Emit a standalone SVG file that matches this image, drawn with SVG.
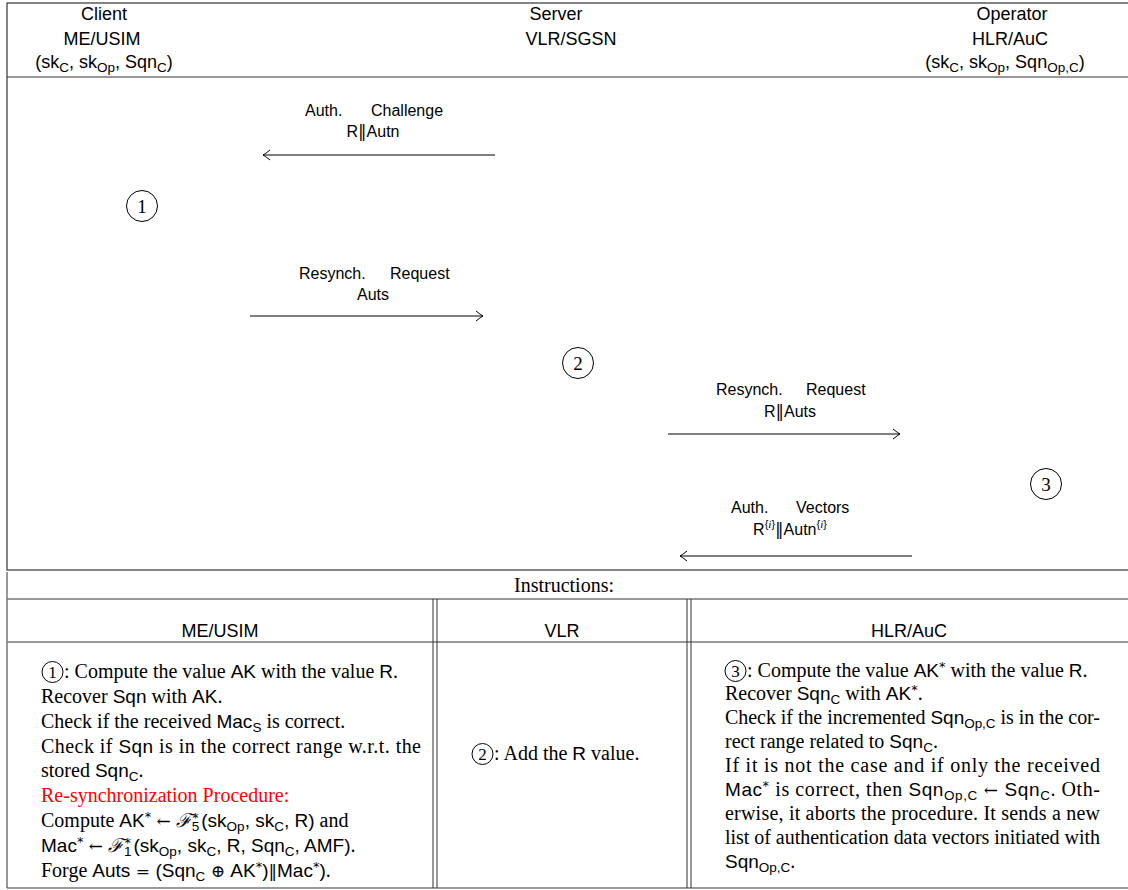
<svg xmlns="http://www.w3.org/2000/svg" width="1128" height="890" viewBox="0 0 1128 890">
<style>
.h{font-family:"Liberation Sans",Arial,sans-serif;font-size:18px;fill:#000}
.l{font-family:"Liberation Sans",Arial,sans-serif;font-size:16px;fill:#000}
.t{font-family:"Liberation Serif","Times New Roman",serif;font-size:20px;fill:#000}
.m{font-family:"Liberation Sans",Arial,sans-serif;font-size:19px}
.s{font-family:"Liberation Sans",Arial,sans-serif;font-size:13.5px}
.sup{font-family:"DejaVu Sans","Liberation Sans",sans-serif;font-size:13px}
.ss{font-family:"Liberation Sans",Arial,sans-serif;font-size:11px}
.op{font-family:"DejaVu Serif","Liberation Serif",serif;font-size:17px}
.cal{font-family:"DejaVu Serif","Liberation Serif",serif;font-style:italic;font-size:19px}
.red{fill:#ff0000}
.frame{fill:none;stroke:#333;stroke-width:1.2}
.hl{stroke:#777;stroke-width:1.6}
.vl{stroke:#333;stroke-width:1}
.circ{fill:none;stroke:#000;stroke-width:1}
.cn{font-family:"Liberation Serif","Times New Roman",serif;font-size:19px;text-anchor:middle}
.cns{font-family:"Liberation Serif","Times New Roman",serif;font-size:17px;text-anchor:middle}
.arr{stroke:#000;stroke-width:1;fill:none;marker-end:url(#chev)}
</style>
<defs>
<marker id="chev" viewBox="-9 -6 10 12" markerWidth="10" markerHeight="12" refX="0" refY="0" orient="auto" markerUnits="userSpaceOnUse">
<path d="M-7,-5 Q-2,-1 0,0 Q-2,1 -7,5" fill="none" stroke="#000" stroke-width="1"/>
</marker>
</defs>
<rect x="0" y="0" width="1128" height="890" fill="#fff"/>

<g id="frame">
<rect class="frame" x="7" y="3" width="1126" height="567"/>
<line class="frame" x1="7" y1="77" x2="1128" y2="77"/>
</g>

<g id="client">
<text class="h" x="104" y="20" text-anchor="middle">Client</text>
<text class="h" x="102" y="45" text-anchor="middle">ME/USIM</text>
<text class="h" x="104" y="68" text-anchor="middle">(sk<tspan class="s" dy="4">C</tspan><tspan dy="-4">, sk</tspan><tspan class="s" dy="4">Op</tspan><tspan dy="-4">, Sqn</tspan><tspan class="s" dy="4">C</tspan><tspan dy="-4">)</tspan></text>
</g>
<g id="server">
<text class="h" x="556" y="20" text-anchor="middle">Server</text>
<text class="h" x="571" y="45" text-anchor="middle">VLR/SGSN</text>
</g>
<g id="operator">
<text class="h" x="1012" y="20" text-anchor="middle">Operator</text>
<text class="h" x="1010" y="45" text-anchor="middle">HLR/AuC</text>
<text class="h" x="1005" y="68" text-anchor="middle">(sk<tspan class="s" dy="4">C</tspan><tspan dy="-4">, sk</tspan><tspan class="s" dy="4">Op</tspan><tspan dy="-4">, Sqn</tspan><tspan class="s" dy="4">Op,C</tspan><tspan dy="-4">)</tspan></text>
</g>

<g id="step1"><circle class="circ" cx="142" cy="206" r="15.5"/><text class="cn" x="142" y="213">1</text></g>
<g id="step2"><circle class="circ" cx="578" cy="363" r="15.5"/><text class="cn" x="578" y="370">2</text></g>
<g id="step3"><circle class="circ" cx="1046" cy="484" r="15.5"/><text class="cn" x="1046" y="491">3</text></g>

<g id="connectors">
<line class="arr" x1="495" y1="155" x2="263" y2="155"/>
<text class="l" x="305" y="116">Auth.</text><text class="l" x="371" y="116">Challenge</text>
<text class="l" x="373" y="137" text-anchor="middle">R<tspan class="op">‖</tspan>Autn</text>

<line class="arr" x1="250" y1="316" x2="483" y2="316"/>
<text class="l" x="299" y="279">Resynch.</text><text class="l" x="390" y="279">Request</text>
<text class="l" x="373" y="300" text-anchor="middle">Auts</text>

<line class="arr" x1="668" y1="434" x2="900" y2="434"/>
<text class="l" x="716" y="395">Resynch.</text><text class="l" x="806" y="395">Request</text>
<text class="l" x="790" y="417" text-anchor="middle">R<tspan class="op">‖</tspan>Auts</text>

<line class="arr" x1="912" y1="556" x2="680" y2="556"/>
<text class="l" x="731" y="513">Auth.</text><text class="l" x="796" y="513">Vectors</text>
<text class="l" x="790" y="535" text-anchor="middle">R<tspan class="ss" dy="-7">{<tspan font-style="italic" font-family="Liberation Serif,serif">i</tspan>}</tspan><tspan class="op" dy="7">‖</tspan>Autn<tspan class="ss" dy="-7">{<tspan font-style="italic" font-family="Liberation Serif,serif">i</tspan>}</tspan></text>
</g>

<g id="table">
<line class="vl" x1="7" y1="572" x2="7" y2="888"/>
<line class="hl" x1="7" y1="599" x2="1128" y2="599"/>
<line class="hl" x1="7" y1="642" x2="1128" y2="642"/>
<line class="vl" x1="7" y1="888" x2="1128" y2="888" stroke-width="1.4"/>
<line class="vl" x1="433" y1="599" x2="433" y2="888"/>
<line class="vl" x1="437" y1="599" x2="437" y2="888"/>
<line class="vl" x1="687" y1="599" x2="687" y2="888"/>
<line class="vl" x1="691" y1="599" x2="691" y2="888"/>
<text class="t" x="564" y="592" text-anchor="middle">Instructions:</text>
<text class="h" x="220" y="637" text-anchor="middle">ME/USIM</text>
<text class="h" x="562" y="637" text-anchor="middle">VLR</text>
<text class="h" x="909" y="637" text-anchor="middle">HLR/AuC</text>
</g>

<g id="cell-me">
<circle class="circ" cx="52.5" cy="672" r="10.5"/><text class="cns" x="52.5" y="678">1</text>
<text class="t" x="64" y="678">: Compute the value <tspan class="m">AK</tspan> with the value <tspan class="m">R</tspan>.</text>
<text class="t" x="41" y="703">Recover <tspan class="m">Sqn</tspan> with <tspan class="m">AK</tspan>.</text>
<text class="t" x="41" y="728">Check if the received <tspan class="m">Mac</tspan><tspan class="s" dy="4">S</tspan><tspan dy="-4"> is correct.</tspan></text>
<text class="t" x="41" y="753" textLength="380" lengthAdjust="spacing">Check if <tspan class="m">Sqn</tspan> is in the correct range w.r.t.  the</text>
<text class="t" x="41" y="777">stored <tspan class="m">Sqn</tspan><tspan class="s" dy="4">C</tspan><tspan dy="-4">.</tspan></text>
<text class="t red" x="41" y="802">Re-synchronization Procedure:</text>
<text class="t" x="41" y="827">Compute <tspan class="m">AK</tspan><tspan class="sup" dy="-6">*</tspan><tspan class="op" dy="6"> ← </tspan><tspan class="cal">ℱ</tspan><tspan class="sup" dy="-5">*</tspan><tspan class="s" dx="-7" dy="9">5</tspan><tspan class="m" dx="2" dy="-4">(sk</tspan><tspan class="s" dy="4">Op</tspan><tspan class="m" dy="-4">, sk</tspan><tspan class="s" dy="4">C</tspan><tspan class="m" dy="-4">, R)</tspan> and</text>
<text class="t" x="41" y="852"><tspan class="m">Mac</tspan><tspan class="sup" dy="-6">*</tspan><tspan class="op" dy="6"> ← </tspan><tspan class="cal">ℱ</tspan><tspan class="sup" dy="-5">*</tspan><tspan class="s" dx="-7" dy="9">1</tspan><tspan class="m" dx="2" dy="-4">(sk</tspan><tspan class="s" dy="4">Op</tspan><tspan class="m" dy="-4">, sk</tspan><tspan class="s" dy="4">C</tspan><tspan class="m" dy="-4">, R, Sqn</tspan><tspan class="s" dy="4">C</tspan><tspan class="m" dy="-4">, AMF)</tspan>.</text>
<text class="t" x="41" y="877">Forge <tspan class="m">Auts</tspan><tspan class="op"> = </tspan><tspan class="m">(Sqn</tspan><tspan class="s" dy="4">C</tspan><tspan class="op" dy="-4"> ⊕ </tspan><tspan class="m">AK</tspan><tspan class="sup" dy="-6">*</tspan><tspan class="m" dy="6">)</tspan><tspan class="op">‖</tspan><tspan class="m">Mac</tspan><tspan class="sup" dy="-6">*</tspan><tspan class="m" dy="6">)</tspan>.</text>
</g>

<g id="cell-vlr">
<circle class="circ" cx="482.5" cy="754" r="10.5"/><text class="cns" x="482.5" y="760">2</text>
<text class="t" x="494" y="760">: Add the <tspan class="m">R</tspan> value.</text>
</g>

<g id="cell-hlr">
<circle class="circ" cx="735.5" cy="671" r="10.5"/><text class="cns" x="735.5" y="677">3</text>
<text class="t" x="747" y="677">: Compute the value <tspan class="m">AK</tspan><tspan class="sup" dy="-6">*</tspan><tspan dy="6"> with the value </tspan><tspan class="m">R</tspan>.</text>
<text class="t" x="725" y="700">Recover <tspan class="m">Sqn</tspan><tspan class="s" dy="4">C</tspan><tspan dy="-4"> with </tspan><tspan class="m">AK</tspan><tspan class="sup" dy="-6">*</tspan><tspan dy="6">.</tspan></text>
<text class="t" x="725" y="724" textLength="375" lengthAdjust="spacing">Check if the incremented <tspan class="m">Sqn</tspan><tspan class="s" dy="4">Op,C</tspan><tspan dy="-4"> is in the cor-</tspan></text>
<text class="t" x="725" y="748">rect range related to <tspan class="m">Sqn</tspan><tspan class="s" dy="4">C</tspan><tspan dy="-4">.</tspan></text>
<text class="t" x="725" y="772" textLength="375" lengthAdjust="spacing">If it is not the case and if only the received</text>
<text class="t" x="725" y="796" textLength="375" lengthAdjust="spacing"><tspan class="m">Mac</tspan><tspan class="sup" dy="-6">*</tspan><tspan dy="6"> is correct, then </tspan><tspan class="m">Sqn</tspan><tspan class="s" dy="4">Op,C</tspan><tspan class="op" dy="-4"> ← </tspan><tspan class="m">Sqn</tspan><tspan class="s" dy="4">C</tspan><tspan dy="-4">. Oth-</tspan></text>
<text class="t" x="725" y="820" textLength="375" lengthAdjust="spacing">erwise, it aborts the procedure.  It sends a new</text>
<text class="t" x="725" y="844" textLength="375" lengthAdjust="spacing">list of authentication data vectors initiated with</text>
<text class="t" x="725" y="868"><tspan class="m">Sqn</tspan><tspan class="s" dy="4">Op,C</tspan><tspan dy="-4">.</tspan></text>
</g>
</svg>
